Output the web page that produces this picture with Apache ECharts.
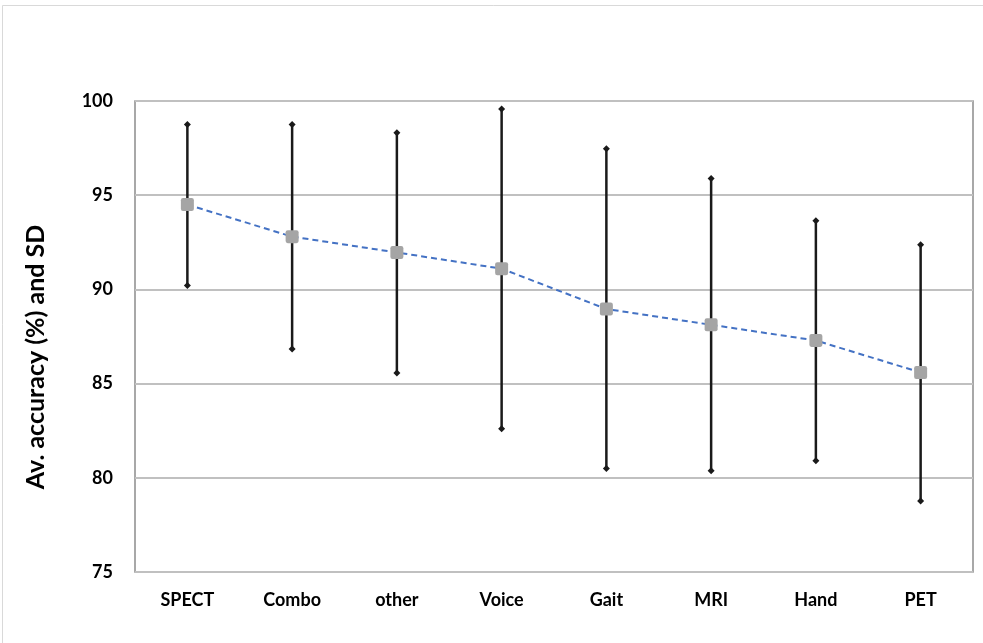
<!DOCTYPE html>
<html>
<head>
<meta charset="utf-8">
<script src="https://cdn.jsdelivr.net/npm/echarts@6/dist/echarts.min.js"></script>
<style>
html,body{margin:0;padding:0;background:#fff;}
#chart{width:983px;height:643px;}
</style>
</head>
<body>
<div id="chart"></div>
<script>
var categories = ['SPECT','Combo','other','Voice','Gait','MRI','Hand','PET'];
var meanValues = [94.5, 92.8, 91.96, 91.1, 88.96, 88.12, 87.29, 85.59];
var upperValues = [98.75, 98.75, 98.31, 99.58, 97.47, 95.88, 93.65, 92.37];
var lowerValues = [90.21, 86.83, 85.56, 82.61, 80.49, 80.38, 80.9, 78.77];
var yTicks = [75, 80, 85, 90, 95, 100];
var yTitle = 'Av. accuracy (%) and SD';

var FONT = 'Lato, "Open Sans", sans-serif';
var chart = echarts.init(document.getElementById('chart'), null, {renderer:'canvas'});

var errData = categories.map(function(c, i){ return [i, lowerValues[i], upperValues[i]]; });

function diamond(x, y, r){
  return {type:'polygon', shape:{points:[[x, y-r],[x+r, y],[x, y+r],[x-r, y]]}, style:{fill:'#1a1a1a'}};
}

chart.setOption({
  animation:false,
  backgroundColor:'#fff',
  graphic:[
    {type:'rect', shape:{x:2.5, y:5.5, width:1100, height:800}, style:{fill:null, stroke:'#d9d9d9', lineWidth:1}, silent:true},
    {type:'text', x:36, y:357, rotation:Math.PI/2,
     style:{text:yTitle, fill:'#000', font:'bold 25px ' + FONT, align:'center', verticalAlign:'middle'}}
  ],
  grid:{left:135, right:10, top:101, bottom:71, show:true, borderColor:'#8c8c8c', borderWidth:1.5},
  xAxis:{
    type:'category', data:categories, boundaryGap:true,
    axisLine:{show:false}, axisTick:{show:false},
    axisLabel:{color:'#000', fontFamily:FONT, fontWeight:'bold', fontSize:18, margin:19}
  },
  yAxis:{
    type:'value', min:75, max:100, interval:5,
    axisLine:{show:false}, axisTick:{show:false},
    axisLabel:{color:'#000', fontFamily:FONT, fontWeight:'bold', fontSize:18, margin:22,
      formatter:function(v){ return yTicks.indexOf(v) >= 0 ? String(v) : ''; }},
    splitLine:{lineStyle:{color:'#c0c0c0', width:2}}
  },
  series:[
    {
      type:'custom', data:errData, z:3,
      renderItem:function(params, api){
        var i = api.value(0);
        var lo = api.coord([i, api.value(1)]);
        var hi = api.coord([i, api.value(2)]);
        return {type:'group', children:[
          {type:'line', shape:{x1:lo[0], y1:lo[1], x2:hi[0], y2:hi[1]}, style:{stroke:'#1a1a1a', lineWidth:2.5}},
          diamond(lo[0], lo[1], 3.5),
          diamond(hi[0], hi[1], 3.5)
        ]};
      }
    },
    {
      type:'line', data:meanValues, z:4,
      symbol:'path://M2,0 L10,0 Q12,0 12,2 L12,10 Q12,12 10,12 L2,12 Q0,12 0,10 L0,2 Q0,0 2,0 Z',
      symbolSize:13,
      itemStyle:{color:'#a5a5a5'},
      lineStyle:{color:'#4472c4', width:2, type:[6,4]}
    }
  ]
});
</script>
</body>
</html>
